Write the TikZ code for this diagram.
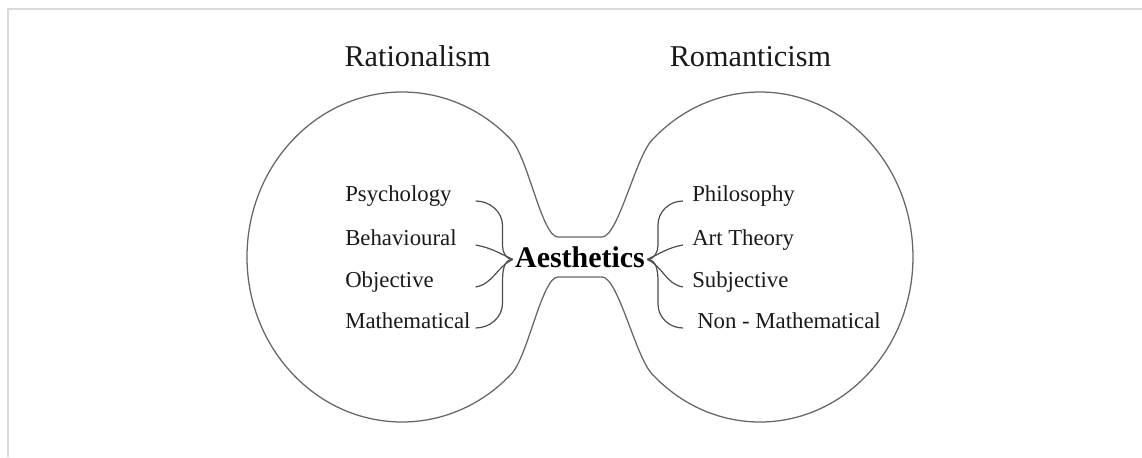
\documentclass[tikz,border=0pt]{standalone}
\usepackage{fontspec}
\setmainfont{Liberation Serif}
\begin{document}
\begin{tikzpicture}[
  title/.style={anchor=base, font=\fontsize{21.5}{25}\selectfont, text=black!90},
  lft/.style={anchor=base west, inner sep=0, text width=3.25cm, align=left, font=\fontsize{16.2}{19}\selectfont, text=black!90},
  rgt/.style={anchor=base west, inner ysep=0, inner xsep=0.225cm, font=\fontsize{16.2}{19}\selectfont, text=black!90},
  brace/.style={black!70, line width=0.85pt},
  blob/.style={black!60, line width=0.9pt}]
\useasboundingbox (-14.5,-5) rectangle (14.05,6.425);
\draw[gray!30, line width=1.2pt] (-14.3,-5) -- (-14.3,6.2) -- (14.05,6.2);
\draw[blob] (-1.71,2.917) arc[start angle=45, end angle=315, x radius=3.875cm, y radius=4.125cm]
  .. controls (-1.3,-2.477) and (-0.95,-0.5) .. (-0.55,-0.5) -- (0.55,-0.5)
  .. controls (0.95,-0.5) and (1.385,-2.477) .. (1.795,-2.917)
  arc[start angle=225, end angle=495, x radius=3.825cm, y radius=4.125cm]
  .. controls (1.385,2.477) and (0.95,0.5) .. (0.55,0.5) -- (-0.55,0.5)
  .. controls (-0.95,0.5) and (-1.3,2.477) .. cycle;
\node[title] (rat) at (-4.06,4.775) {Rationalism};
\node[title] (rom) at (4.26,4.775) {Romanticism};
\node[anchor=base, inner sep=1.5pt, text depth=0.14cm, font=\bfseries\fontsize{21.3}{25}\selectfont] (aes) at (0,-0.25) {Aesthetics};
\node[lft] (psy) at (-5.875,1.4) {Psychology};
\node[lft] (beh) at (-5.875,0.3) {Behavioural};
\node[lft] (obj) at (-5.875,-0.75) {Objective};
\node[lft] (mat) at (-5.875,-1.775) {Mathematical};
\node[rgt] (phi) at (2.575,1.4) {Philosophy};
\node[rgt] (art) at (2.575,0.3) {Art Theory};
\node[rgt] (sub) at (2.575,-0.75) {Subjective};
\node[rgt, inner xsep=0.35cm] (non) at (2.575,-1.775) {Non - Mathematical};
\draw[brace] (psy.base east) to[out=0,in=90] ++(0.675,-0.625) -- ++(0,-0.5) to[out=-90,in=180] (aes.west);
\draw[brace] (beh.base east) to[out=-10,in=155] (aes.west);
\draw[brace] (obj.base east) to[out=10,in=205] (aes.west);
\draw[brace] (mat.base east) to[out=0,in=-90] ++(0.675,0.625) -- ++(0,0.55) to[out=90,in=180] (aes.west);
\draw[brace] (phi.base west) to[out=180,in=90] ++(-0.625,-0.6) -- ++(0,-0.5) to[out=-90,in=0] (aes.east);
\draw[brace] (art.base west) to[out=190,in=25] (aes.east);
\draw[brace] (sub.base west) to[out=170,in=-25] (aes.east);
\draw[brace] (non.base west) to[out=180,in=-90] ++(-0.625,0.6) -- ++(0,0.55) to[out=90,in=0] (aes.east);
\end{tikzpicture}
\end{document}
